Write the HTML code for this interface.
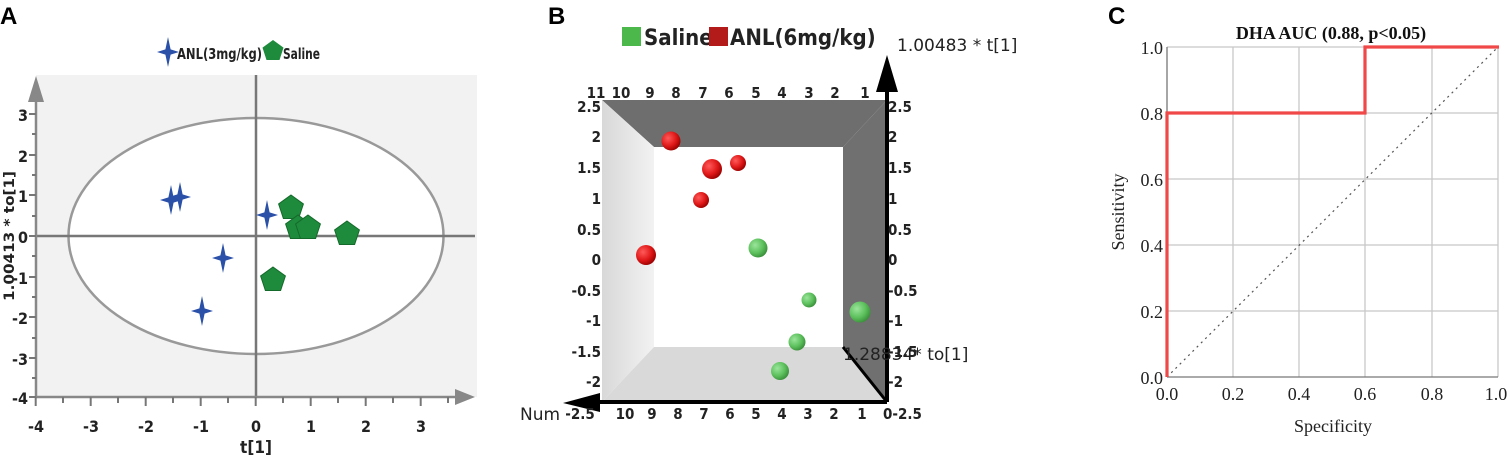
<!DOCTYPE html>
<html><head><meta charset="utf-8"><style>
html,body{margin:0;padding:0;background:#fff;}
svg{display:block;}
.b{font-family:"DejaVu Sans Condensed","Liberation Sans",sans-serif;font-weight:bold;}
.s{font-family:"Liberation Serif",serif;}
</style></head><body>
<svg width="1510" height="458" viewBox="0 0 1510 458" xmlns="http://www.w3.org/2000/svg">
<defs>
<radialGradient id="rg" cx="0.35" cy="0.35" r="0.7"><stop offset="0" stop-color="#ff5a5a"/><stop offset="0.6" stop-color="#e01818"/><stop offset="1" stop-color="#900"/></radialGradient>
<radialGradient id="gg" cx="0.35" cy="0.35" r="0.7"><stop offset="0" stop-color="#9be59b"/><stop offset="0.6" stop-color="#5cc05c"/><stop offset="1" stop-color="#3a8f3a"/></radialGradient>
<linearGradient id="lg" x1="0" x2="1"><stop offset="0" stop-color="#d8d8d8"/><stop offset="1" stop-color="#f2f2f2"/></linearGradient>
<path id="star" d="M0,-15 L2.6,-2.6 L11,0 L2.6,2.6 L0,15 L-2.6,2.6 L-11,0 L-2.6,-2.6 Z" fill="#2a50a8"/>
<polygon id="pent" points="0,-13 12.4,-4 7.6,10.5 -7.6,10.5 -12.4,-4" fill="#1e8a3c" stroke="#146a2a" stroke-width="1"/>
<polygon id="pents" points="0,-11 10.5,-3.4 6.5,9 -6.5,9 -10.5,-3.4" fill="#1e8a3c"/>
</defs>

<!-- Panel A -->
<text x="0" y="24" font-family="Liberation Sans" font-weight="bold" font-size="24">A</text>
<rect x="36" y="75" width="441" height="322" fill="#f2f2f2"/>
<ellipse cx="256" cy="236" rx="187.5" ry="118" fill="#fff" stroke="#999" stroke-width="2.5"/>
<line x1="36" y1="236" x2="475" y2="236" stroke="#777" stroke-width="2.5"/>
<line x1="256" y1="75" x2="256" y2="397" stroke="#777" stroke-width="2.5"/>
<line x1="36" y1="397" x2="460" y2="397" stroke="#888" stroke-width="2.5"/>
<polygon points="455,389 475,397 455,405" fill="#888"/>
<line x1="36" y1="397" x2="36" y2="95" stroke="#888" stroke-width="2.5"/>
<polygon points="28,102 36,76 44,102" fill="#888"/>
<g stroke="#777" stroke-width="2">
<line x1="35.7" y1="397" x2="35.7" y2="406"/><line x1="90.7" y1="397" x2="90.7" y2="406"/><line x1="145.7" y1="397" x2="145.7" y2="406"/><line x1="200.7" y1="397" x2="200.7" y2="406"/><line x1="255.7" y1="397" x2="255.7" y2="406"/><line x1="310.7" y1="397" x2="310.7" y2="406"/><line x1="365.7" y1="397" x2="365.7" y2="406"/><line x1="420.7" y1="397" x2="420.7" y2="406"/>
<line x1="63" y1="397" x2="63" y2="403"/><line x1="118" y1="397" x2="118" y2="403"/><line x1="173" y1="397" x2="173" y2="403"/><line x1="228" y1="397" x2="228" y2="403"/><line x1="283" y1="397" x2="283" y2="403"/><line x1="338" y1="397" x2="338" y2="403"/><line x1="393" y1="397" x2="393" y2="403"/><line x1="448" y1="397" x2="448" y2="403"/>
<line x1="29" y1="114" x2="36" y2="114"/><line x1="29" y1="155" x2="36" y2="155"/><line x1="29" y1="195" x2="36" y2="195"/><line x1="29" y1="236" x2="36" y2="236"/><line x1="29" y1="277" x2="36" y2="277"/><line x1="29" y1="317" x2="36" y2="317"/><line x1="29" y1="358" x2="36" y2="358"/><line x1="29" y1="397" x2="36" y2="397"/>
<line x1="32" y1="134" x2="36" y2="134"/><line x1="32" y1="175" x2="36" y2="175"/><line x1="32" y1="216" x2="36" y2="216"/><line x1="32" y1="256" x2="36" y2="256"/><line x1="32" y1="297" x2="36" y2="297"/><line x1="32" y1="338" x2="36" y2="338"/><line x1="32" y1="378" x2="36" y2="378"/>
</g>
<g class="b" font-size="16" fill="#222" text-anchor="middle">
<text x="36" y="432">-4</text><text x="91" y="432">-3</text><text x="146" y="432">-2</text><text x="201" y="432">-1</text><text x="256" y="432">0</text><text x="311" y="432">1</text><text x="366" y="432">2</text><text x="421" y="432">3</text>
</g>
<g class="b" font-size="16" fill="#222" text-anchor="end">
<text x="28" y="121">3</text><text x="28" y="162">2</text><text x="28" y="202">1</text><text x="28" y="243">0</text><text x="28" y="284">-1</text><text x="28" y="324">-2</text><text x="28" y="365">-3</text><text x="28" y="404">-4</text>
</g>
<text x="256" y="453" class="b" font-size="17" fill="#222" text-anchor="middle">t[1]</text>
<text transform="translate(14,236) rotate(-90)" class="b" font-size="14" fill="#222" text-anchor="middle" textLength="130" lengthAdjust="spacingAndGlyphs">1.00413 * to[1]</text>
<use href="#star" x="168" y="52"/>
<text x="177" y="59" class="b" font-size="15" fill="#222" textLength="85" lengthAdjust="spacingAndGlyphs">ANL(3mg/kg)</text>
<use href="#pents" x="273" y="51"/>
<text x="283" y="59" class="b" font-size="15" fill="#222" textLength="37" lengthAdjust="spacingAndGlyphs">Saline</text>
<use href="#star" x="171" y="200"/><use href="#star" x="180" y="197"/><use href="#star" x="267" y="215"/><use href="#star" x="223" y="258"/><use href="#star" x="202" y="311"/>
<use href="#pent" x="291" y="208"/><use href="#pent" x="298" y="228"/><use href="#pent" x="308" y="228"/><use href="#pent" x="347" y="234"/><use href="#pent" x="273" y="280"/>

<!-- Panel B -->
<text x="548" y="24" font-family="Liberation Sans" font-weight="bold" font-size="24">B</text>
<rect x="622" y="27" width="19" height="19" fill="#4cb84c"/>
<text x="644" y="45" class="b" font-size="22" fill="#222">Saline</text>
<rect x="709" y="27" width="19" height="19" fill="#b31b1b"/>
<text x="730" y="45" class="b" font-size="22" fill="#222">ANL(6mg/kg)</text>
<text x="897" y="51" font-family="DejaVu Sans" font-size="17" fill="#222">1.00483 * t[1]</text>
<polygon points="602,100 887,100 843,147 654,147" fill="#6e6e6e"/>
<polygon points="887,100 887,402 843,347 843,147" fill="#707070"/>
<polygon points="602,100 654,147 654,347 602,402" fill="url(#lg)"/>
<polygon points="602,402 654,347 843,347 887,402" fill="#d9d9d9"/>
<rect x="654" y="147" width="189" height="200" fill="#fff"/>
<line x1="843" y1="347" x2="887" y2="402" stroke="#000" stroke-width="3"/>
<line x1="887" y1="402" x2="887" y2="80" stroke="#000" stroke-width="4"/>
<polygon points="876,92 887,55 898,92" fill="#000"/>
<line x1="887" y1="402" x2="590" y2="402" stroke="#000" stroke-width="4"/>
<polygon points="600,393 563,403 600,412" fill="#000"/>
<text x="520" y="420" font-family="DejaVu Sans" font-size="17" fill="#222">Num</text>
<text x="843" y="360" font-family="DejaVu Sans" font-size="17" fill="#222">1.28834* to[1]</text>
<g class="b" font-size="15" fill="#222" text-anchor="middle">
<text x="596" y="98">11</text><text x="621" y="98">10</text><text x="650" y="98">9</text><text x="676" y="98">8</text><text x="703" y="98">7</text><text x="729" y="98">6</text><text x="756" y="98">5</text><text x="782" y="98">4</text><text x="809" y="98">3</text><text x="835" y="98">2</text><text x="865" y="98">1</text>
<text x="580" y="419">-2.5</text><text x="625" y="419">10</text><text x="652" y="419">9</text><text x="678" y="419">8</text><text x="704" y="419">7</text><text x="730" y="419">6</text><text x="756" y="419">5</text><text x="782" y="419">4</text><text x="808" y="419">3</text><text x="834" y="419">2</text><text x="862" y="419">1</text>
</g>
<g class="b" font-size="15" fill="#222" text-anchor="end">
<text x="601" y="112">2.5</text><text x="601" y="142">2</text><text x="601" y="173">1.5</text><text x="601" y="204">1</text><text x="601" y="235">0.5</text><text x="601" y="265">0</text><text x="601" y="296">-0.5</text><text x="601" y="326">-1</text><text x="601" y="357">-1.5</text><text x="601" y="387">-2</text>
</g>
<g class="b" font-size="15" fill="#222">
<text x="888" y="112">2.5</text><text x="888" y="142">2</text><text x="888" y="173">1.5</text><text x="888" y="204">1</text><text x="888" y="235">0.5</text><text x="888" y="265">0</text><text x="888" y="296">-0.5</text><text x="888" y="326">-1</text><text x="888" y="357">-1.5</text><text x="888" y="387">-2</text><text x="883" y="419">0-2.5</text>
</g>
<circle cx="671" cy="141" r="9.5" fill="url(#rg)"/><circle cx="712" cy="169" r="10" fill="url(#rg)"/><circle cx="738" cy="163" r="8" fill="url(#rg)"/><circle cx="701" cy="200" r="8" fill="url(#rg)"/><circle cx="646" cy="255" r="10" fill="url(#rg)"/>
<circle cx="758" cy="248" r="9.5" fill="url(#gg)"/><circle cx="809" cy="300" r="7.5" fill="url(#gg)"/><circle cx="860" cy="312" r="10.5" fill="url(#gg)"/><circle cx="797" cy="342" r="8.5" fill="url(#gg)"/><circle cx="780" cy="371" r="9" fill="url(#gg)"/>

<!-- Panel C -->
<text x="1108" y="24" font-family="Liberation Sans" font-weight="bold" font-size="24">C</text>
<g stroke="#c8c8c8" stroke-width="1.3">
<line x1="1233" y1="47" x2="1233" y2="377"/><line x1="1299" y1="47" x2="1299" y2="377"/><line x1="1365" y1="47" x2="1365" y2="377"/><line x1="1432" y1="47" x2="1432" y2="377"/><line x1="1498" y1="47" x2="1498" y2="377"/>
<line x1="1167" y1="47" x2="1498" y2="47"/><line x1="1167" y1="113" x2="1498" y2="113"/><line x1="1167" y1="179" x2="1498" y2="179"/><line x1="1167" y1="245" x2="1498" y2="245"/><line x1="1167" y1="311" x2="1498" y2="311"/>
</g>
<line x1="1167" y1="47" x2="1167" y2="377" stroke="#777" stroke-width="1.3"/>
<line x1="1167" y1="377" x2="1498" y2="377" stroke="#777" stroke-width="1.3"/>
<line x1="1167" y1="377" x2="1498" y2="47" stroke="#555" stroke-width="1.2" stroke-dasharray="2,4"/>
<polyline points="1167,377 1167,113 1365,113 1365,47 1499,47" fill="none" stroke="#f04848" stroke-width="3.2"/>
<text x="1331" y="39" class="s" font-weight="bold" font-size="18" text-anchor="middle" fill="#111">DHA AUC (0.88, p&lt;0.05)</text>
<g class="s" font-size="18" fill="#222" text-anchor="end">
<text x="1163" y="54">1.0</text><text x="1163" y="120">0.8</text><text x="1163" y="186">0.6</text><text x="1163" y="252">0.4</text><text x="1163" y="318">0.2</text><text x="1163" y="384">0.0</text>
</g>
<g class="s" font-size="18" fill="#222" text-anchor="middle">
<text x="1167" y="400">0.0</text><text x="1233" y="400">0.2</text><text x="1299" y="400">0.4</text><text x="1365" y="400">0.6</text><text x="1432" y="400">0.8</text><text x="1496" y="400">1.0</text>
</g>
<text x="1333" y="432" class="s" font-size="18" text-anchor="middle" fill="#222">Specificity</text>
<text transform="translate(1124,212) rotate(-90)" class="s" font-size="18" text-anchor="middle" fill="#222">Sensitivity</text>
</svg>
</body></html>
